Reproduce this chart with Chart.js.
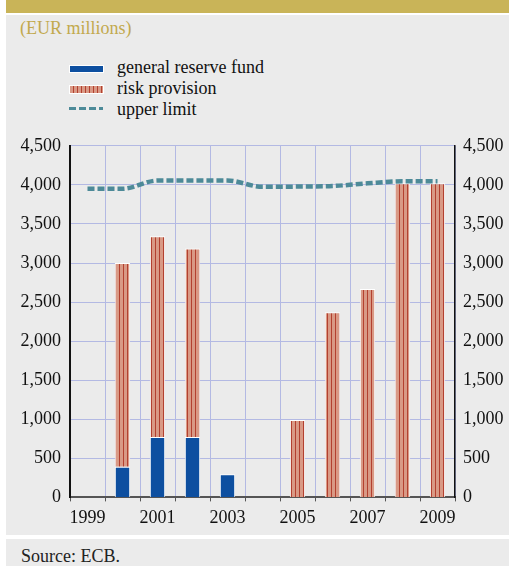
<!DOCTYPE html>
<html>
<head>
<meta charset="utf-8">
<script src="https://cdn.jsdelivr.net/npm/chart.js@4/dist/chart.umd.min.js"></script>
<style>
  html, body { margin:0; padding:0; background:#ffffff; }
  body { width:509px; height:566px; position:relative; overflow:hidden; font-family:"Liberation Serif","DejaVu Serif",serif; }
  #band { position:absolute; left:6px; top:0; width:503px; height:13px; background:#c9b458; }
  #panel { position:absolute; left:6px; top:15px; width:503px; height:520px; background:#ebebeb; }
  #foot { position:absolute; left:6px; top:539px; width:503px; height:27px; background:#ebebeb; }
  #unit { position:absolute; left:20px; top:17px; font-size:18px; color:#c2a94e; line-height:22px; }
  #source { position:absolute; left:21px; top:545px; font-size:18px; color:#222; line-height:22px; }
  .leg { position:absolute; left:117px; font-size:18px; color:#111; line-height:20px; }
  .sw { position:absolute; left:69px; width:34px; }
  #chartwrap { position:absolute; left:0; top:126px; width:509px; height:411px; }
</style>
</head>
<body>
<div id="band"></div>
<div id="panel"></div>
<div id="foot"></div>
<div id="unit">(EUR millions)</div>
<div class="sw" style="top:65px;height:6px;background:#0d4fa0;border:1px solid #fff;width:33px;"></div>
<div class="leg" style="top:57px;">general reserve fund</div>
<div class="sw" id="sw2" style="top:85px;height:7px;border:1px solid #fff;width:33px;background:repeating-linear-gradient(90deg,#d99985 0px,#d99985 3px,#b3402f 3px,#b3402f 4px);"></div>
<div class="leg" style="top:78px;">risk provision</div>
<div class="sw" style="top:107px;height:3px;background:repeating-linear-gradient(90deg,#4d8a98 0px,#4d8a98 7px,transparent 7px,transparent 10px);"></div>
<div class="leg" style="top:99px;">upper limit</div>
<div id="chartwrap"><canvas id="c" width="509" height="411"></canvas></div>
<div id="source">Source: ECB.</div>
<script>
const years = ['1999','2000','2001','2002','2003','2004','2005','2006','2007','2008','2009'];
const generalReserveFund = [null, 393, 774, 774, 296, null, null, null, null, null, null];
const riskProvision = [null, 2607, 2567, 2410, null, null, 992, 2371, 2668, 4020, 4020];
const upperLimit = [3950, 3950, 4055, 4055, 4055, 3975, 3978, 3985, 4020, 4045, 4045];
const yTicks = [0, 500, 1000, 1500, 2000, 2500, 3000, 3500, 4000, 4500];

function stripePattern() {
  const p = document.createElement('canvas');
  p.width = 4; p.height = 4;
  const g = p.getContext('2d');
  g.fillStyle = '#d99985'; g.fillRect(0,0,4,4);
  g.fillStyle = '#b3402f'; g.fillRect(3,0,1,4);
  return document.getElementById('c').getContext('2d').createPattern(p, 'repeat');
}

const font = { family: '"Liberation Serif", "DejaVu Serif", serif', size: 18 };
const tickFmt = v => Number(v).toLocaleString('en-US');

new Chart(document.getElementById('c'), {
  type: 'bar',
  data: {
    labels: years,
    datasets: [
      { label: 'general reserve fund', data: generalReserveFund, backgroundColor: '#0d4fa0',
        borderColor: '#ffffff', borderWidth: 1, barPercentage: 0.44, categoryPercentage: 1, yAxisID: 'y', order: 2 },
      { label: 'risk provision', data: riskProvision, backgroundColor: stripePattern(),
        borderColor: '#ffffff', borderWidth: 1, barPercentage: 0.44, categoryPercentage: 1, yAxisID: 'y', order: 2 },
      { label: 'upper limit', type: 'line', data: upperLimit, borderColor: '#4d8a98', borderWidth: 4.5,
        borderDash: [7, 3], pointRadius: 0, fill: false, cubicInterpolationMode: 'monotone',
        yAxisID: 'y2', order: 1 }
    ]
  },
  options: {
    responsive: false,
    animation: false,
    layout: { padding: { left: 0, right: 0, top: 6, bottom: 2 } },
    plugins: { legend: { display: false }, tooltip: { enabled: false } },
    scales: {
      x: {
        stacked: true,
        offset: true,
        grid: { offset: true, color: '#b3b9e3', lineWidth: 1, tickColor: '#555', tickLength: 4, drawTicks: true },
        border: { color: '#555', width: 2 },
        ticks: { font, color: '#111', padding: 6, autoSkip: false, maxRotation: 0,
          callback: function(v, i) { return i % 2 === 0 ? years[i] : ''; } }
      },
      y: {
        stacked: true,
        position: 'left',
        min: 0, max: 4500,
        afterBuildTicks: axis => { axis.ticks = yTicks.map(v => ({ value: v })); },
        afterFit: axis => { axis.width = 70; },
        grid: { color: ctx => (ctx.tick && ctx.tick.value === 0) ? '#ffffff' : '#b3b9e3', lineWidth: 1, drawTicks: false },
        border: { color: '#111', width: 2 },
        ticks: { font, color: '#111', padding: 9, callback: tickFmt }
      },
      y2: {
        position: 'right',
        min: 0, max: 4500,
        afterBuildTicks: axis => { axis.ticks = yTicks.map(v => ({ value: v })); },
        afterFit: axis => { axis.width = 54; },
        grid: { drawOnChartArea: false, drawTicks: false },
        border: { color: '#111', width: 1.5 },
        ticks: { font, color: '#111', padding: 8, callback: tickFmt }
      }
    }
  }
});
</script>
</body>
</html>
